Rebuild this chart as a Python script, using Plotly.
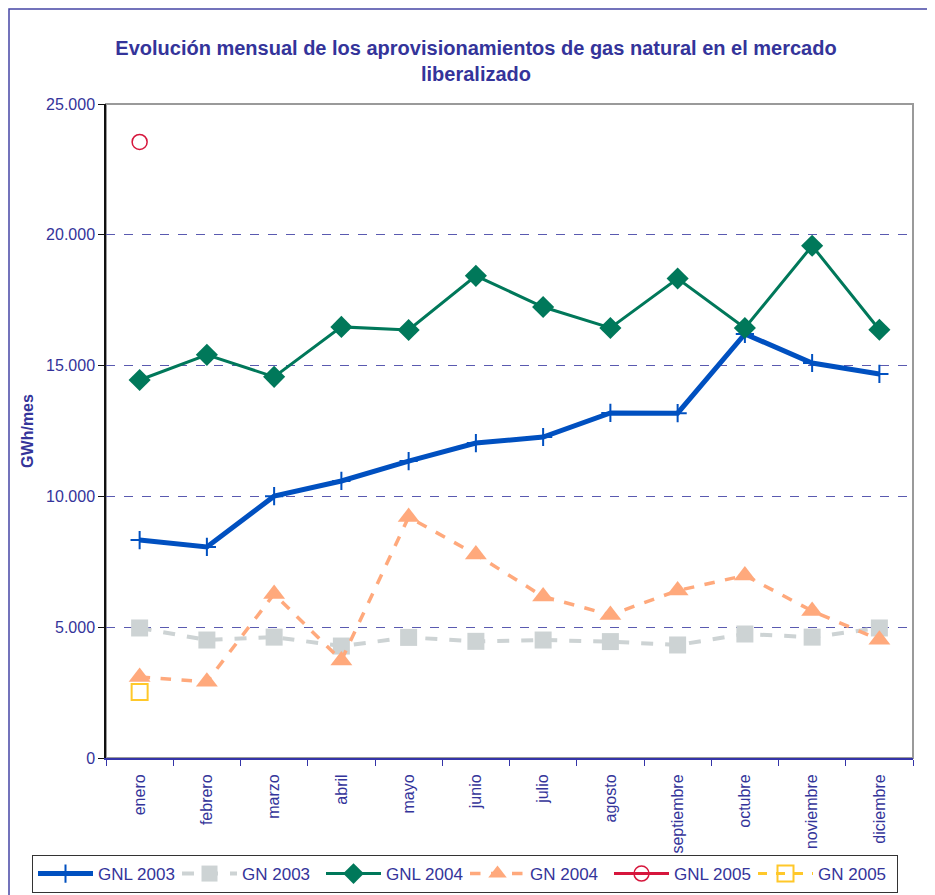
import plotly.graph_objects as go

meses = ["enero", "febrero", "marzo", "abril", "mayo", "junio", "julio",
         "agosto", "septiembre", "octubre", "noviembre", "diciembre"]

gnl_2003 = [8330, 8070, 10010, 10590, 11350, 12040, 12270, 13190, 13180, 16210, 15100, 14680]
gn_2003 = [4970, 4510, 4620, 4280, 4610, 4460, 4510, 4450, 4320, 4740, 4620, 4970]
gnl_2004 = [14450, 15410, 14570, 16480, 16360, 18430, 17240, 16440, 18330, 16440, 19580, 16370]
gn_2004 = [3100, 2910, 6270, 3730, 9210, 7780, 6170, 5470, 6400, 6980, 5620, 4520]
gnl_2005 = [23550]
gn_2005 = [2520]

TXT = "#34349A"
FONT = "Liberation Sans, Arial, sans-serif"

# page has an 8px body margin: figure coordinates = page coordinates - 8
W, H = 927, 887
L, R, T, B = 98, 22, 96, 137
PW = W - L - R
PH = H - T - B

fig = go.Figure()

fig.add_trace(go.Scatter(
    x=meses, y=gnl_2003, name="GNL 2003", mode="lines+markers",
    line=dict(color="#0050C0", width=5),
    marker=dict(symbol="cross-thin", size=13, color="#0050C0",
                line=dict(color="#0050C0", width=2))))
fig.add_trace(go.Scatter(
    x=meses, y=gn_2003, name="GN 2003", mode="lines+markers",
    line=dict(color="#CDD3D4", width=4, dash="dash"),
    marker=dict(symbol="square", size=17, color="#CDD3D4")))
fig.add_trace(go.Scatter(
    x=meses, y=gnl_2004, name="GNL 2004", mode="lines+markers",
    line=dict(color="#00785A", width=3),
    marker=dict(symbol="diamond", size=17, color="#00785A")))
fig.add_trace(go.Scatter(
    x=meses, y=gn_2004, name="GN 2004", mode="lines+markers",
    line=dict(color="#FFA97C", width=3.5, dash="dash"),
    marker=dict(symbol="triangle-up", size=19, color="#FFA97C")))
fig.add_trace(go.Scatter(
    x=meses[:1], y=gnl_2005, name="GNL 2005", mode="lines+markers",
    line=dict(color="#D6163C", width=3),
    marker=dict(symbol="circle-open", size=15, color="#D6163C",
                line=dict(color="#D6163C", width=1.5))))
fig.add_trace(go.Scatter(
    x=meses[:1], y=gn_2005, name="GN 2005", mode="lines+markers",
    line=dict(color="#FFC82A", width=3, dash="dash"),
    marker=dict(symbol="square-open", size=16, color="#FFC82A",
                line=dict(color="#FFC82A", width=2))))

fig.update_layout(
    width=W, height=H,
    margin=dict(l=L, r=R, t=T, b=B, autoexpand=False),
    paper_bgcolor="white", plot_bgcolor="white",
    separators=",.",
    font=dict(family=FONT, color=TXT, size=16),
    title=dict(
        text="<b>Evolución mensual de los aprovisionamientos de gas natural en el mercado<br>liberalizado</b>",
        x=(476 - 8 - L) / PW, xref="paper", xanchor="center",
        y=1 - 47 / H, yref="container", yanchor="middle",
        font=dict(family=FONT, size=20, color=TXT)),
    xaxis=dict(
        type="category", categoryorder="array", categoryarray=meses,
        showgrid=False, showline=True, linecolor="#3434A8", linewidth=2,
        ticks="outside", tickson="boundaries", ticklen=6, tickcolor="#3434A8",
        tickangle=-90, tickfont=dict(size=16, color=TXT), ticklabelstandoff=8,
        range=[-0.5, 11.5]),
    yaxis=dict(
        range=[0, 25000], dtick=5000, tickformat=",d",
        showgrid=True, gridcolor="#5A5AB0", griddash="dash", gridwidth=1,
        zeroline=False, showline=True, linecolor="#111111", linewidth=1.5,
        ticks="outside", ticklen=6, tickcolor="#111111",
        tickfont=dict(size=16, color=TXT),
        title=dict(text="<b>GWh/mes</b>", font=dict(size=16, color=TXT), standoff=9)),
    legend=dict(
        orientation="h", x=(32 - 8 - L) / PW, xanchor="left",
        y=-(855 - 758) / PH, yanchor="top",
        bordercolor="#333333", borderwidth=1, bgcolor="white",
        font=dict(size=17, color=TXT), itemwidth=55,
        entrywidth=74, entrywidthmode="pixels",
        traceorder="normal"),
    shapes=[
        dict(type="rect", xref="paper", yref="paper", x0=0, x1=1, y0=0, y1=1,
             line=dict(color="#9A9A9A", width=2), layer="below"),
        dict(type="rect", xref="paper", yref="paper",
             x0=(1 - L) / PW, x1=1.05, y0=-0.3, y1=(PH + T - 1) / PH,
             line=dict(color="#4545A5", width=1.5), layer="below"),
    ],
)

fig.write_html("out.html")
